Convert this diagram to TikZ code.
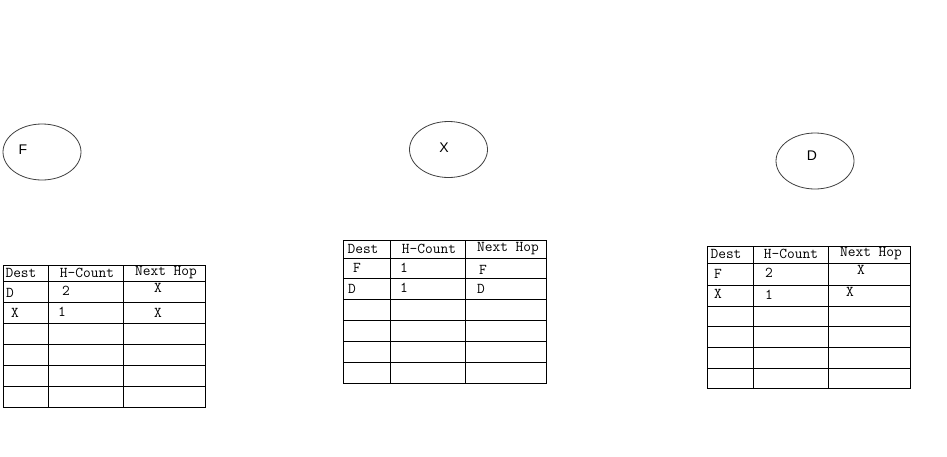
\documentclass[tikz,border=0pt]{standalone}
\usepackage{fontspec}
\setmainfont{Liberation Sans}
\usetikzlibrary{shapes.geometric}
\begin{document}
\begin{tikzpicture}[x=1pt,y=-1pt,
  host/.style={draw=black!75, line width=0.8pt, ellipse, minimum width=78pt, minimum height=56pt, inner sep=0pt},
  hostlabel/.style={font=\fontsize{14}{14}\selectfont, inner sep=0pt},
  grid/.style={draw=black, line width=0.9pt},
  cell/.style={font=\ttfamily\fontsize{15}{15}\selectfont, inner sep=0pt, anchor=center}]
\useasboundingbox[fill=white] (0,0) rectangle (947,456);

% hosts
\node[host] (F) at (42,152) {};
\node[hostlabel] (Fl) at (23,150) {F};
\node[host] (X) at (448.5,149.5) {};
\node[hostlabel] (Xl) at (444,148) {X};
\node[host] (D) at (815,161) {};
\node[hostlabel] (Dl) at (812,156) {D};

% table F
\draw[grid] (3,265) rectangle (205,407);
\foreach \x in {48,123} \draw[grid] (\x,265) -- (\x,407);
\foreach \y in {281,302,323,344,365,386} \draw[grid] (3,\y) -- (205,\y);
\node[cell] (tF00) at (21,273) {Dest};
\node[cell] (tF01) at (87,273) {H-Count};
\node[cell] (tF02) at (166,273) {Next Hop};
\node[cell] (tF10) at (10,293) {D};
\node[cell] (tF11) at (66,291) {2};
\node[cell] (tF12) at (158,288) {X};
\node[cell] (tF20) at (15,313) {X};
\node[cell] (tF21) at (62,312) {1};
\node[cell] (tF22) at (158,313) {X};

% table X
\draw[grid] (343,240) rectangle (546,383);
\foreach \x in {390,465} \draw[grid] (\x,240) -- (\x,383);
\foreach \y in {258,278,299,320,341,362} \draw[grid] (343,\y) -- (546,\y);
\node[cell] (tX00) at (363,249) {Dest};
\node[cell] (tX01) at (429,249) {H-Count};
\node[cell] (tX02) at (508,249) {Next Hop};
\node[cell] (tX10) at (357,268) {F};
\node[cell] (tX11) at (404,268) {1};
\node[cell] (tX12) at (483,270) {F};
\node[cell] (tX20) at (352,289) {D};
\node[cell] (tX21) at (404,288) {1};
\node[cell] (tX22) at (481,289) {D};

% table D
\draw[grid] (707,246) rectangle (910,388);
\foreach \x in {753,828} \draw[grid] (\x,246) -- (\x,388);
\foreach \y in {263,285,306,326,347,368} \draw[grid] (707,\y) -- (910,\y);
\node[cell] (tD00) at (726,254) {Dest};
\node[cell] (tD01) at (791,254) {H-Count};
\node[cell] (tD02) at (871,254) {Next Hop};
\node[cell] (tD10) at (718,274) {F};
\node[cell] (tD11) at (769,273) {2};
\node[cell] (tD12) at (861,270) {X};
\node[cell] (tD20) at (718,294) {X};
\node[cell] (tD21) at (769,295) {1};
\node[cell] (tD22) at (850,292) {X};
\end{tikzpicture}
\end{document}
